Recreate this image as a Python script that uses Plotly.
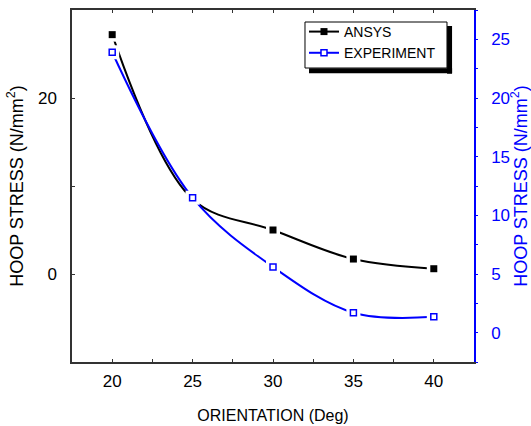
import plotly.graph_objects as go

orientation = [20, 25, 30, 35, 40]
ansys = [27.2, 8.5, 5.0, 1.7, 0.6]          # left axis
experiment = [23.9, 11.5, 5.6, 1.7, 1.35]   # right axis

FONT = "Liberation Sans, Arial, sans-serif"
BLUE = "#0000FF"

fig = go.Figure()

# ANSYS
fig.add_trace(go.Scatter(x=orientation, y=ansys, name="ANSYS", mode="lines+markers",
                         line=dict(color="black", width=2, shape="spline", smoothing=1),
                         marker=dict(symbol="square", size=7, color="black"),
                         yaxis="y"))
fig.add_trace(go.Scatter(x=orientation, y=ansys, mode="markers", showlegend=False,
                         marker=dict(symbol="square", size=14, color="white"),
                         hoverinfo="skip", yaxis="y"))
fig.add_trace(go.Scatter(x=orientation, y=ansys, mode="markers", showlegend=False,
                         marker=dict(symbol="square", size=7, color="black"),
                         hoverinfo="skip", yaxis="y"))
# EXPERIMENT
fig.add_trace(go.Scatter(x=orientation, y=experiment, name="EXPERIMENT", mode="lines+markers",
                         line=dict(color=BLUE, width=2, shape="spline", smoothing=1),
                         marker=dict(symbol="square", size=6, color="white",
                                     line=dict(color=BLUE, width=1.5)),
                         yaxis="y2"))
fig.add_trace(go.Scatter(x=orientation, y=experiment, mode="markers", showlegend=False,
                         marker=dict(symbol="square", size=14, color="white"),
                         hoverinfo="skip", yaxis="y2"))
fig.add_trace(go.Scatter(x=orientation, y=experiment, mode="markers", showlegend=False,
                         marker=dict(symbol="square", size=6, color="white",
                                     line=dict(color=BLUE, width=1.5)),
                         hoverinfo="skip", yaxis="y2"))

# legend frame: white box with border plus a drop shadow (right and bottom)
fig.update_layout(
    width=531, height=426,
    margin=dict(l=72, r=57, t=10, b=64),
    paper_bgcolor="white", plot_bgcolor="white",
    font=dict(family=FONT, size=17, color="black"),
    showlegend=True,
    legend=dict(x=0.5771, y=0.983, xanchor="left", yanchor="top",
                bgcolor="rgba(0,0,0,0)", borderwidth=0,
                font=dict(family=FONT, size=14, color="black"),
                tracegroupgap=0, itemwidth=30),
    shapes=[
        dict(type="rect", xref="paper", yref="paper", layer="above",
             x0=0.5796, x1=0.9328, y0=0.8352, y1=0.9659,
             fillcolor="white", line=dict(color="black", width=1)),
        dict(type="line", xref="paper", yref="paper", layer="above",
             x0=0.9392, x1=0.9392, y0=0.819, y1=0.9545,
             line=dict(color="black", width=5)),
        dict(type="line", xref="paper", yref="paper", layer="above",
             x0=0.5896, x1=0.9455, y0=0.8271, y1=0.8271,
             line=dict(color="black", width=5)),
    ],
    xaxis=dict(range=[17.5, 42.5], tick0=20, dtick=5, ticks="inside", ticklen=3,
               tickcolor="#333", showline=True, linecolor="#333", linewidth=1.5,
               mirror="allticks", showgrid=False, zeroline=False, automargin=False,
               minor=dict(dtick=2.5, ticks="inside", ticklen=3, tickcolor="#333"),
               tickfont=dict(size=17), ticklabelstandoff=3,
               title=dict(text="ORIENTATION (Deg)", font=dict(size=16), standoff=20)),
    yaxis=dict(range=[-10, 30], tick0=0, dtick=20, ticks="inside", ticklen=3,
               tickcolor="#333", showline=True, linecolor="#333", linewidth=1.5,
               mirror=False, showgrid=False, zeroline=False, automargin=False,
               minor=dict(dtick=10, ticks="inside", ticklen=3, tickcolor="#333"),
               tickfont=dict(size=17), ticklabelstandoff=10,
               title=dict(text="HOOP STRESS (N/mm<sup>2</sup>)", font=dict(size=18), standoff=10)),
    yaxis2=dict(range=[-2.5, 27.5], tick0=0, dtick=5, overlaying="y", side="right",
                ticks="outside", ticklen=2, tickcolor=BLUE, showline=True,
                linecolor=BLUE, linewidth=1.5, showgrid=False, zeroline=False,
                automargin=False,
                minor=dict(dtick=2.5, ticks="outside", ticklen=2, tickcolor=BLUE),
                tickfont=dict(size=17, color=BLUE), ticklabelstandoff=10,
                title=dict(text="HOOP STRESS (N/mm<sup>2</sup>)", font=dict(size=18, color=BLUE),
                           standoff=6)),
)

fig.write_html("out.html")
